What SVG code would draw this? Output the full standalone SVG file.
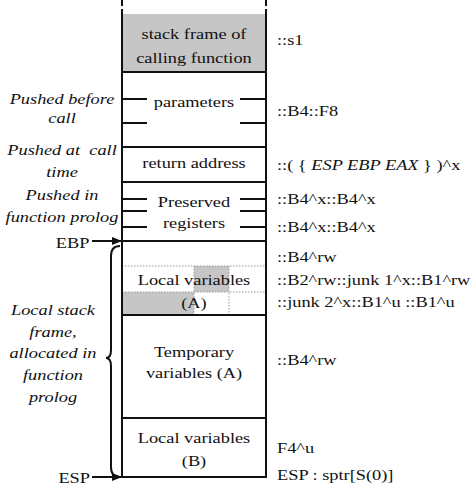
<svg xmlns="http://www.w3.org/2000/svg" width="474" height="492" viewBox="0 0 474 492" font-family="'Liberation Serif', 'DejaVu Serif', serif">
<style>
text{font-family:'Liberation Serif','DejaVu Serif','Times New Roman',serif;font-size:15.3px;fill:#111;transform:scaleX(1.2);white-space:pre}
.c{text-anchor:middle}
.e{text-anchor:end}
.i{font-style:italic}
.box{fill:none;stroke:#111;stroke-width:2}
.ln{stroke:#111;stroke-width:2;fill:none}
.dot{stroke:#999;stroke-width:1;stroke-dasharray:1.5 1.5;fill:none}
.dash{stroke:#111;stroke-width:2;stroke-dasharray:6 3;fill:none}
</style>
<defs>
<marker id="ah" markerWidth="10" markerHeight="8" refX="9" refY="4" orient="auto" markerUnits="userSpaceOnUse">
<path d="M0,0 L10,4 L0,8 Z" fill="#111"/>
</marker>
</defs>
<rect width="474" height="492" fill="#fff"/>
<g id="top-dashes">
<line class="dash" x1="122" y1="0" x2="122" y2="14"/>
<line class="dash" x1="266" y1="0" x2="266" y2="14"/>
</g>
<g id="calling-frame">
<rect x="122" y="14" width="144" height="58" fill="#c6c6c6" stroke="none"/>
<line class="ln" x1="122" y1="14" x2="122" y2="72"/>
<line class="ln" x1="266" y1="14" x2="266" y2="72"/>
<text class="c" x="161.67" y="39">stack frame of</text>
<text class="c" x="161.67" y="63">calling function</text>
<text x="230.83" y="45">::s1</text>
</g>
<g id="parameters">
<rect class="box" x="122" y="72" width="144" height="75"/>
<line class="ln" x1="122" y1="99" x2="147" y2="99"/>
<line class="ln" x1="240" y1="99" x2="266" y2="99"/>
<line class="ln" x1="122" y1="123" x2="147" y2="123"/>
<line class="ln" x1="240" y1="123" x2="266" y2="123"/>
<text class="c" x="161.67" y="107">parameters</text>
<text x="230.83" y="116">::B4::F8</text>
<text class="c i" x="51.67" y="104">Pushed before</text>
<text class="c i" x="51.67" y="123">call</text>
</g>
<g id="return-address">
<rect class="box" x="122" y="147" width="144" height="35"/>
<text class="c" x="161.67" y="168">return address</text>
<text x="230.83" y="170">::( { <tspan font-style="italic">ESP EBP EAX</tspan> } )^x</text>
<text class="c i" x="51.67" y="155">Pushed at  call</text>
<text class="c i" x="51.67" y="177">time</text>
</g>
<g id="preserved-registers">
<rect class="box" x="122" y="182" width="144" height="59"/>
<line class="ln" x1="122" y1="199" x2="147" y2="199"/>
<line class="ln" x1="240" y1="199" x2="266" y2="199"/>
<line class="ln" x1="122" y1="211" x2="147" y2="211"/>
<line class="ln" x1="240" y1="211" x2="266" y2="211"/>
<line class="ln" x1="122" y1="227" x2="147" y2="227"/>
<line class="ln" x1="240" y1="227" x2="266" y2="227"/>
<text class="c" x="161.67" y="207">Preserved</text>
<text class="c" x="161.67" y="228">registers</text>
<text x="230.83" y="204">::B4^x::B4^x</text>
<text x="230.83" y="232">::B4^x::B4^x</text>
<text class="c i" x="51.67" y="200">Pushed in</text>
<text class="c i" x="51.67" y="222">function prolog</text>
</g>
<g id="local-variables-a">
<rect x="194" y="266" width="35" height="26" fill="#c6c6c6"/>
<rect x="122" y="292" width="72" height="23" fill="#c6c6c6"/>
<line class="dot" x1="122" y1="266" x2="266" y2="266"/>
<line class="dot" x1="122" y1="292" x2="266" y2="292"/>
<line class="dot" x1="194" y1="266" x2="194" y2="315"/>
<line class="dot" x1="229" y1="266" x2="229" y2="315"/>
<rect class="box" x="122" y="241" width="144" height="74"/>
<text class="c" x="161.67" y="285">Local variables</text>
<text class="c" x="161.67" y="308">(A)</text>
<text x="230.83" y="262">::B4^rw</text>
<text x="230.83" y="285">::B2^rw::junk 1^x::B1^rw</text>
<text x="230.83" y="307">::junk 2^x::B1^u ::B1^u</text>
</g>
<g id="temporary-variables">
<rect class="box" x="122" y="315" width="144" height="103"/>
<text class="c" x="161.67" y="357">Temporary</text>
<text class="c" x="161.67" y="378">variables (A)</text>
<text x="230.83" y="365">::B4^rw</text>
</g>
<g id="local-variables-b">
<rect class="box" x="122" y="418" width="144" height="59"/>
<text class="c" x="161.67" y="443">Local variables</text>
<text class="c" x="161.67" y="466">(B)</text>
<text x="230.83" y="453">F4^u</text>
<text x="230.83" y="480">ESP : sptr[S(0)]</text>
</g>
<g id="ebp">
<text class="e" x="74.5" y="248">EBP</text>
</g>
<g id="esp">
<text class="e" x="75" y="483">ESP</text>
</g>
<g id="local-frame-label">
<text class="c i" x="44.17" y="315">Local stack</text>
<text class="c i" x="44.17" y="337">frame,</text>
<text class="c i" x="44.17" y="358">allocated in</text>
<text class="c i" x="44.17" y="380">function</text>
<text class="c i" x="44.17" y="402">prolog</text>
</g>
<g id="connectors">
<line class="ln" x1="92" y1="241" x2="121" y2="241" marker-end="url(#ah)"/>
<line class="ln" x1="92" y1="477" x2="121" y2="477" marker-end="url(#ah)"/>
<path class="ln" stroke-width="1.6" d="M120,246 Q111,246 111,256 L111,350 Q111,358 106,358 Q111,358 111,366 L111,467 Q111,477 120,477"/>
</g>
</svg>
